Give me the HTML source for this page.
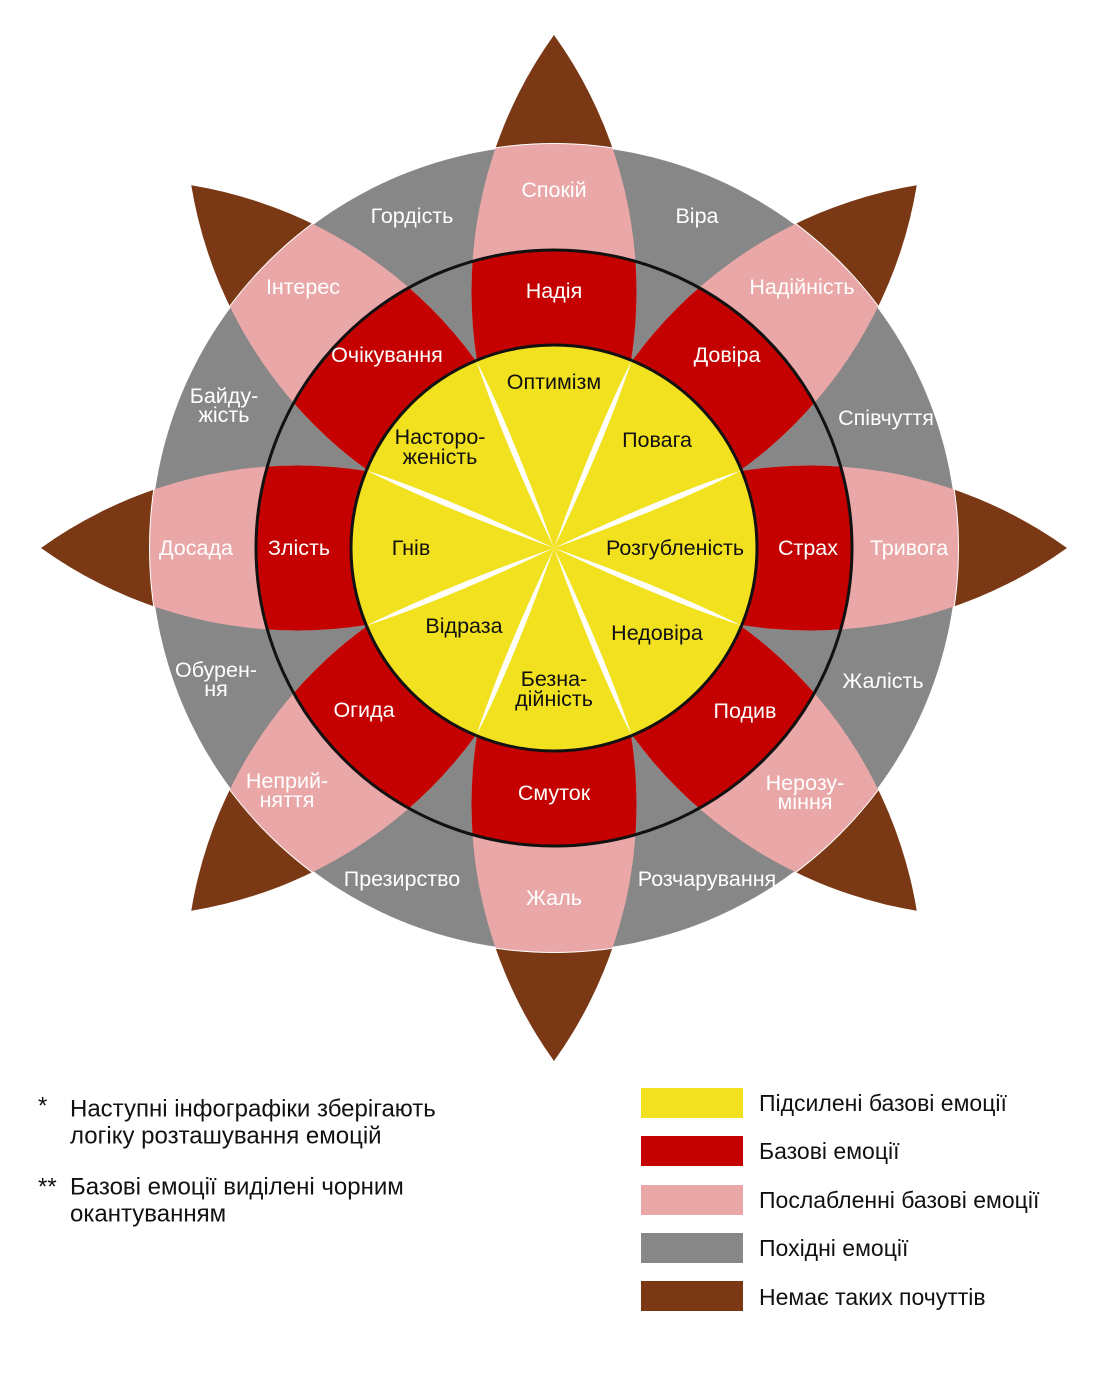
<!DOCTYPE html>
<html><head><meta charset="utf-8"><style>
html,body{margin:0;padding:0;background:#fff;}
svg{display:block;}
text{font-family:"Liberation Sans","DejaVu Sans",sans-serif;}
.w{fill:#fff;font-size:21.5px;}
.b{fill:#111;font-size:21.5px;}
.l{fill:#111;font-size:23px;}
.n{fill:#111;font-size:24px;}
</style></head><body>
<svg width="1108" height="1380" viewBox="0 0 1108 1380" xmlns="http://www.w3.org/2000/svg">
<defs>
<path id="lens" d="M0,0 A440,440 0 0 1 0,-513 A440,440 0 0 1 0,0 Z"/>
<path id="spin" d="M0,0 Q6,-120 0,-203 Q-6,-120 0,0 Z"/>
<clipPath id="cOut"><circle cx="0" cy="0" r="404"/></clipPath>
<clipPath id="cIn"><circle cx="0" cy="0" r="298"/></clipPath>
</defs>
<g transform="translate(554,548)">
<g fill="#7a3815">
<use href="#lens"/><use href="#lens" transform="rotate(45)"/><use href="#lens" transform="rotate(90)"/><use href="#lens" transform="rotate(135)"/>
<use href="#lens" transform="rotate(180)"/><use href="#lens" transform="rotate(225)"/><use href="#lens" transform="rotate(270)"/><use href="#lens" transform="rotate(315)"/>
</g>
<circle r="405" fill="#fff"/>
<circle r="403" fill="#878787"/>
<g fill="#e9a7a7" clip-path="url(#cOut)">
<use href="#lens"/><use href="#lens" transform="rotate(45)"/><use href="#lens" transform="rotate(90)"/><use href="#lens" transform="rotate(135)"/>
<use href="#lens" transform="rotate(180)"/><use href="#lens" transform="rotate(225)"/><use href="#lens" transform="rotate(270)"/><use href="#lens" transform="rotate(315)"/>
</g>
<g fill="#c40000" clip-path="url(#cIn)">
<use href="#lens"/><use href="#lens" transform="rotate(45)"/><use href="#lens" transform="rotate(90)"/><use href="#lens" transform="rotate(135)"/>
<use href="#lens" transform="rotate(180)"/><use href="#lens" transform="rotate(225)"/><use href="#lens" transform="rotate(270)"/><use href="#lens" transform="rotate(315)"/>
</g>
<circle r="298" fill="none" stroke="#111" stroke-width="3"/>
<circle r="203" fill="#f2e11f" stroke="#111" stroke-width="3"/>
<g fill="#fff">
<use href="#spin" transform="rotate(22.5)"/><use href="#spin" transform="rotate(67.5)"/><use href="#spin" transform="rotate(112.5)"/><use href="#spin" transform="rotate(157.5)"/>
<use href="#spin" transform="rotate(202.5)"/><use href="#spin" transform="rotate(247.5)"/><use href="#spin" transform="rotate(292.5)"/><use href="#spin" transform="rotate(337.5)"/>
</g>
</g>
<g class="w" text-anchor="middle" dominant-baseline="central">
<text x="554" y="190">Спокій</text>
<text x="697" y="216">Віра</text>
<text x="412" y="216">Гордість</text>
<text x="303" y="287">Інтерес</text>
<text x="802" y="287">Надійність</text>
<text x="224" y="396">Байду-</text><text x="224" y="415">жість</text>
<text x="886" y="418">Співчуття</text>
<text x="196" y="548">Досада</text>
<text x="909" y="548">Тривога</text>
<text x="216" y="670">Обурен-</text><text x="216" y="689">ня</text>
<text x="883" y="681">Жалість</text>
<text x="287" y="781">Неприй-</text><text x="287" y="800">няття</text>
<text x="805" y="783">Нерозу-</text><text x="805" y="802">міння</text>
<text x="402" y="879">Презирство</text>
<text x="554" y="898">Жаль</text>
<text x="707" y="879">Розчарування</text>
<text x="554" y="291">Надія</text>
<text x="387" y="355">Очікування</text>
<text x="727" y="355">Довіра</text>
<text x="299" y="548">Злість</text>
<text x="808" y="548">Страх</text>
<text x="364" y="710">Огида</text>
<text x="745" y="711">Подив</text>
<text x="554" y="793">Смуток</text>
</g>
<g class="b" text-anchor="middle" dominant-baseline="central">
<text x="554" y="382">Оптимізм</text>
<text x="440" y="437">Насторо-</text><text x="440" y="457">женість</text>
<text x="657" y="440">Повага</text>
<text x="411" y="548">Гнів</text>
<text x="675" y="548">Розгубленість</text>
<text x="464" y="626">Відраза</text>
<text x="657" y="633">Недовіра</text>
<text x="554" y="679">Безна-</text><text x="554" y="699">дійність</text>
</g>
<rect x="641" y="1088" width="102" height="30" fill="#f2e11f"/>
<rect x="641" y="1136" width="102" height="30" fill="#c40000"/>
<rect x="641" y="1185" width="102" height="30" fill="#e9a7a7"/>
<rect x="641" y="1233" width="102" height="30" fill="#878787"/>
<rect x="641" y="1281" width="102" height="30" fill="#7a3815"/>
<g class="l" dominant-baseline="central">
<text x="759" y="1103">Підсилені базові емоції</text>
<text x="759" y="1151">Базові емоції</text>
<text x="759" y="1200">Послабленні базові емоції</text>
<text x="759" y="1248">Похідні емоції</text>
<text x="759" y="1297">Немає таких почуттів</text>
</g>
<g class="n" dominant-baseline="central">
<text x="38" y="1106">*</text>
<text x="70" y="1109">Наступні інфографіки  зберігають</text>
<text x="70" y="1136">логіку розташування емоцій</text>
<text x="38" y="1187">**</text>
<text x="70" y="1187">Базові емоції виділені чорним</text>
<text x="70" y="1214">окантуванням</text>
</g>
</svg>
</body></html>
